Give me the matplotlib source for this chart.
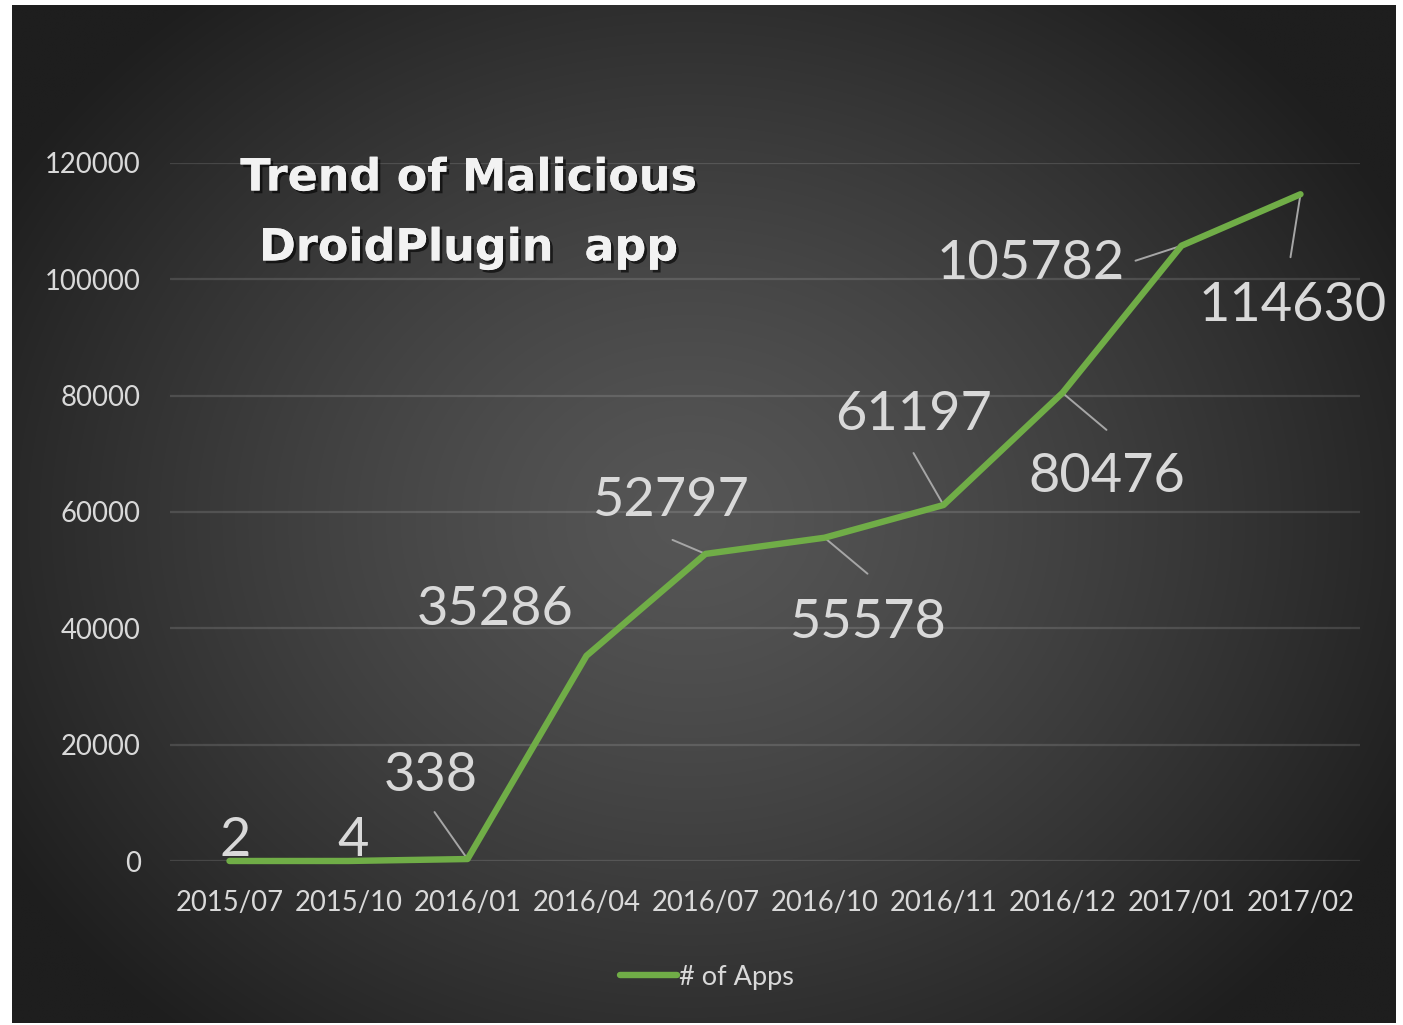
import numpy as np
import matplotlib
matplotlib.use("Agg")
import matplotlib.pyplot as plt
import matplotlib.patheffects as pe

# ---- data ----
categories = ["2015/07", "2015/10", "2016/01", "2016/04", "2016/07",
              "2016/10", "2016/11", "2016/12", "2017/01", "2017/02"]
apps = [2, 4, 338, 35286, 52797, 55578, 61197, 80476, 105782, 114630]
yticks = [0, 20000, 40000, 60000, 80000, 100000, 120000]
series_name = "# of Apps"
title_lines = ["Trend of Malicious", "DroidPlugin  app"]

# label offsets (pixels) relative to point, and leader-line start (None = no leader)
label_offsets = [(6, 20), (5, 20), (-37, 84), (-91, 46), (-35, 53),
                 (43, -85), (-30, 91), (44, -84), (-151, -18), (-8, -111)]
leader_offsets = [None, None, (-33, 47), None, (-33, 14),
                  (43, -36), (-30, 52), (44, -37), (-46, -15), (-10, -63)]

W, H = 1403, 1025
DPI = 100
fig = plt.figure(figsize=(W / DPI, H / DPI), dpi=DPI, facecolor="white")

# background radial gradient
bx0, bx1, by0, by1 = 12, 1396, 5, 1023
bg = fig.add_axes([bx0 / W, 1 - by1 / H, (bx1 - bx0) / W, (by1 - by0) / H])
bg.set_axis_off()
nx, ny = 700, 520
xx, yy = np.meshgrid(np.linspace(bx0, bx1, nx), np.linspace(by0, by1, ny))
cx, cy = 690, 520
r = np.sqrt(((xx - cx) / 760.0) ** 2 + ((yy - cy) / 640.0) ** 2)
r = np.clip(r / 1.05, 0, 1)
c0, c1 = 0x56 / 255, 0x1e / 255
val = c0 + (c1 - c0) * r ** 1.3
img = np.dstack([val, val, val])
bg.imshow(img, aspect="auto", extent=[0, 1, 0, 1], interpolation="bilinear")
bg.set_xlim(0, 1); bg.set_ylim(0, 1)

# main axes
ax_left, ax_right = 170, 1360
ax_top, ax_bottom = 163, 861
ax = fig.add_axes([ax_left / W, 1 - ax_bottom / H, (ax_right - ax_left) / W, (ax_bottom - ax_top) / H])
ax.patch.set_alpha(0)
for s in ax.spines.values():
    s.set_visible(False)

x = np.arange(len(categories))
green = "#70ad47"
line, = ax.plot(x, apps, color=green, lw=4.6, solid_capstyle="round",
                solid_joinstyle="round", label=series_name, zorder=3, clip_on=False)
ax.set_xlim(-0.5, len(categories) - 0.5)
ax.set_ylim(0, 120000)
ax.set_yticks(yticks)
ax.set_yticklabels([str(t) for t in yticks])
ax.set_xticks(x)
ax.set_xticklabels(categories)
ax.tick_params(length=0, colors="#d9d9d9", labelsize=19.8)
ax.tick_params(axis="y", pad=21)
ax.tick_params(axis="x", pad=21)
for lab in ax.get_xticklabels() + ax.get_yticklabels():
    lab.set_fontfamily(["Lato", "DejaVu Sans"])
ax.yaxis.grid(True, color="#ffffff", alpha=0.13, lw=1.6)
ax.set_axisbelow(True)

# data labels + leader lines
for i, v in enumerate(apps):
    dx, dy = label_offsets[i]
    ax.annotate(str(v), xy=(x[i], v), xytext=(dx, dy), textcoords="offset pixels",
                ha="center", va="center", fontsize=39, color="#d9d9d9",
                family=["Lato", "DejaVu Sans"], zorder=4)
    lo = leader_offsets[i]
    if lo is not None:
        ax.annotate("", xy=(x[i], v), xytext=lo, textcoords="offset pixels",
                    arrowprops=dict(arrowstyle="-", color="#a6a6a6", lw=1.4,
                                    shrinkA=0, shrinkB=0), zorder=2)

# title
shadow = [pe.withSimplePatchShadow(offset=(2, -2), shadow_rgbFace="black", alpha=0.6),
          pe.Normal()]
fig.text(469 / W, 1 - 178 / H, title_lines[0], ha="center", va="center",
         fontsize=32, fontweight="bold", color="#f2f2f2",
         family=["DejaVu Sans"], path_effects=shadow)
fig.text(469 / W, 1 - 248 / H, title_lines[1], ha="center", va="center",
         fontsize=32, fontweight="bold", color="#f2f2f2",
         family=["DejaVu Sans"], path_effects=shadow)

# legend
leg = fig.legend(handles=[line], loc="center", bbox_to_anchor=(707 / W, 1 - 977 / H),
                 frameon=False, handlelength=2.1, handletextpad=0.05,
                 prop={"family": "Lato", "size": 19.5})
for t in leg.get_texts():
    t.set_color("#d9d9d9")

fig.savefig("out.png", dpi=DPI, facecolor="white")
